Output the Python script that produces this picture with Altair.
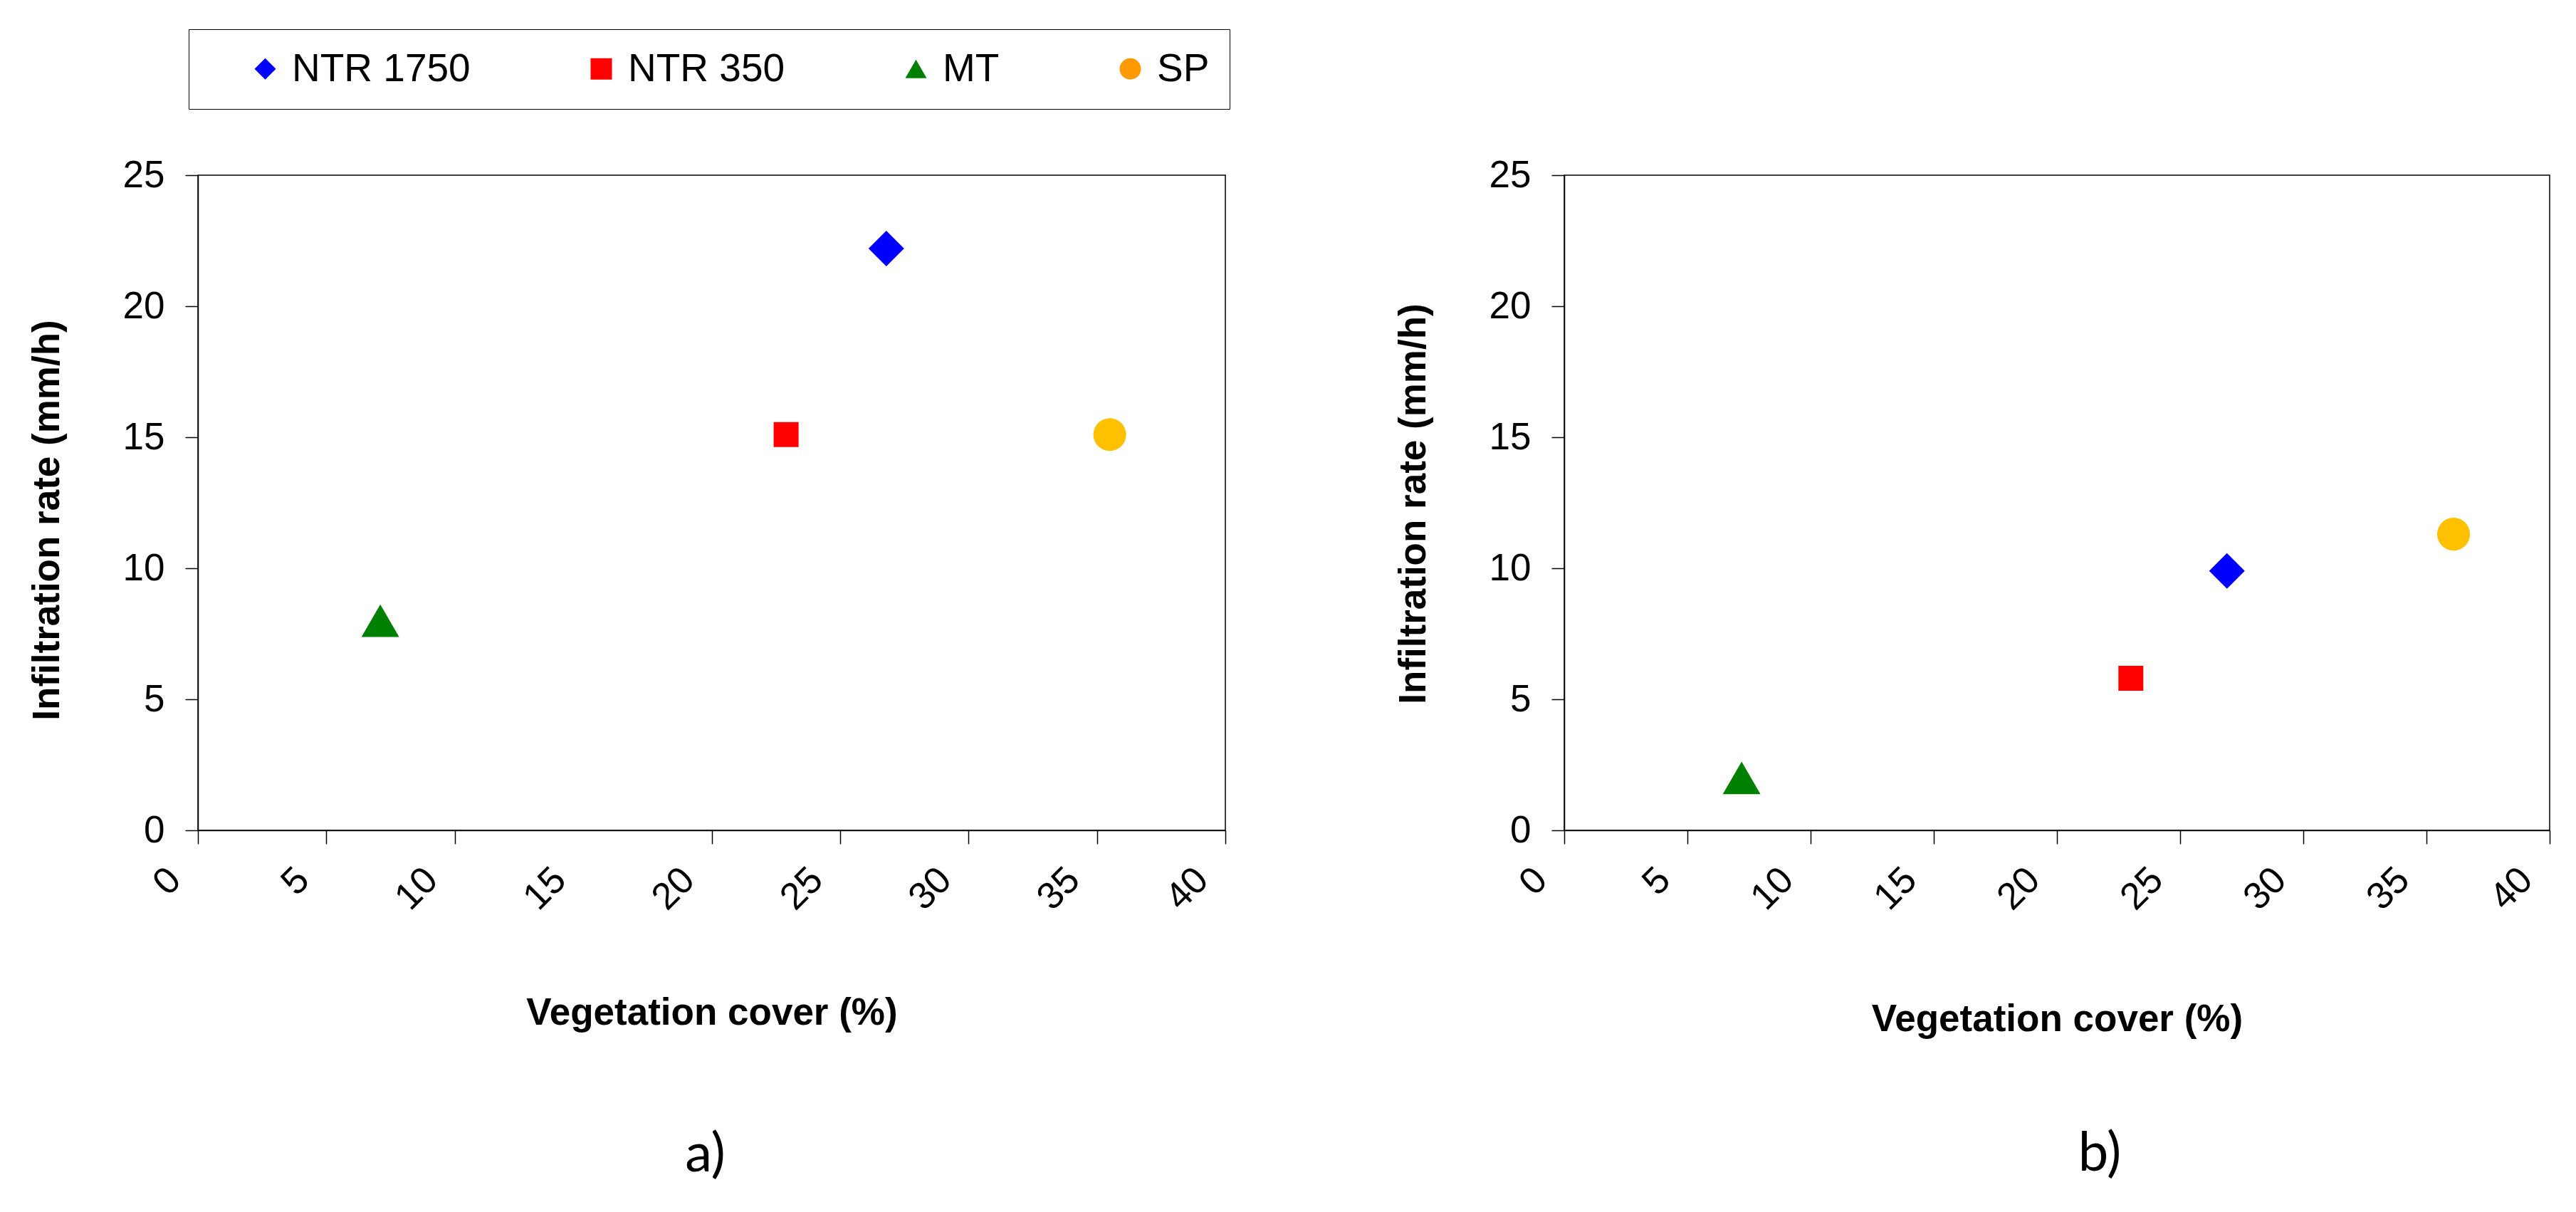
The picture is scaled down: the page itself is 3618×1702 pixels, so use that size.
import altair as alt
import pandas as pd

# ---- data ----
series = ["NTR 1750", "NTR 350", "MT", "SP"]
cover_a = [26.8, 22.9, 7.1, 35.5]
rate_a = [22.2, 15.1, 8.0, 15.1]
cover_b = [26.9, 23.0, 7.2, 36.1]
rate_b = [9.9, 5.8, 2.0, 11.3]
x_ticks = [0, 5, 10, 15, 20, 25, 30, 35, 40]
y_ticks = [0, 5, 10, 15, 20, 25]
panel_labels = ["a)", "b)"]
x_title = "Vegetation cover (%)"
y_title = "Infiltration rate (mm/h)"

# ---- styles ----
colors = ["#0000FF", "#FF0000", "#008000", "#FF9900"]
shapes = ["diamond", "square", "triangle-up", "circle"]
marker_sizes = [2500, 1225, 2800, 2124]
SP_FILL = "#FFC000"
H = 920


def panel(cover, rate, label, width, xtitle_y, ytitle_y, show_legend, hide15, title_dx, title_offset):
    df = pd.DataFrame({"series": series, "cover": cover, "rate": rate})
    if show_legend:
        legend = alt.Legend(
            title=" ", titleOrient="left", titleFontSize=10, titlePadding=52,
            orient="none", legendX=-13, legendY=-205, direction="horizontal",
            labelFont="Liberation Sans", labelFontSize=55, labelColor="black",
            labelLimit=0, labelOffset=10, columnPadding=156, symbolSize=900,
            padding=28, strokeColor="black",
        )
    else:
        legend = None
    xaxis_kw = dict(
        values=x_ticks, title=x_title, labelAngle=315, labelAlign="right",
        labelBaseline="middle", labelOffset=-33, labelPadding=42, tickSize=19,
        titleX=width / 2, titleY=xtitle_y, titleBaseline="middle", titleAlign="center",
        titleFontSize=53,
    )
    if hide15:
        xaxis_kw["tickOpacity"] = alt.condition("datum.value == 15", alt.value(0), alt.value(1))
    x_enc = alt.X("cover:Q", scale=alt.Scale(domain=[0, 40], nice=False), axis=alt.Axis(**xaxis_kw))
    y_enc = alt.Y("rate:Q", scale=alt.Scale(domain=[0, 25], nice=False),
                  axis=alt.Axis(values=y_ticks, title=y_title, tickSize=18, labelPadding=29,
                                titleX=-212, titleY=ytitle_y, titleAngle=270, titleFontSize=53,
                                titleBaseline="middle", titleAlign="center"))
    color = alt.condition(
        alt.datum.series == "SP",
        alt.value(SP_FILL),
        alt.Color("series:N", scale=alt.Scale(domain=series, range=colors), legend=legend),
    )
    shape = alt.Shape("series:N", scale=alt.Scale(domain=series, range=shapes), legend=legend)
    base = alt.Chart(df)
    layers = []
    for name, sz in zip(series, marker_sizes):
        layers.append(
            base.transform_filter(alt.datum.series == name)
            .mark_point(filled=True, opacity=1, strokeWidth=0, size=sz)
            .encode(x=x_enc, y=y_enc, color=color, shape=shape)
        )
    return alt.layer(*layers).properties(
        width=width, height=H,
        title=alt.TitleParams(text=label, orient="bottom", anchor="middle", frame="group",
                              font="Lato", fontSize=76, fontWeight="normal", color="black",
                              offset=title_offset, dx=title_dx),
    )


pa = panel(cover_a, rate_a, panel_labels[0], 1443, 256, 484, True, True, -9, 136)
pb = panel(cover_b, rate_b, panel_labels[1], 1384, 265, 461, False, False, 60, 126)

chart = alt.hconcat(pa, pb, spacing=476, bounds="flush").resolve_scale(
    color="independent", shape="independent", x="independent", y="independent"
).resolve_legend(
    color="independent", shape="independent"
).properties(
    padding={"left": 31, "top": 31, "right": 5, "bottom": 5}
).configure_view(
    stroke="black", strokeWidth=1.5
).configure_axis(
    grid=False, domainColor="black", domainWidth=1.5, tickColor="black", tickWidth=1.5,
    labelFont="Liberation Sans", labelFontSize=53, labelColor="black",
    titleFont="Liberation Sans", titleFontSize=52, titleFontWeight="bold", titleColor="black",
)

chart.save("out.html", embed_options={"renderer": "svg", "actions": False})
